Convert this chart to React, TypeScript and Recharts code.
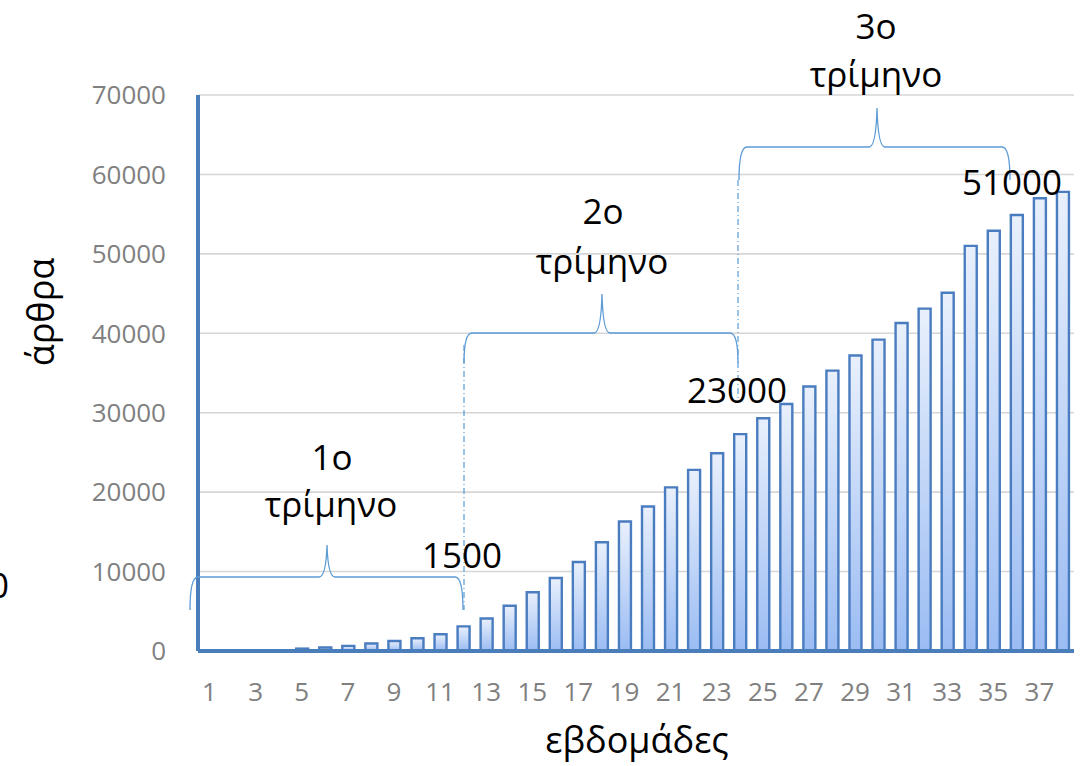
import React from "react";
import { BarChart, Bar, XAxis, YAxis, CartesianGrid } from "recharts";

const weeks = [
  "1", "2", "3", "4", "5", "6", "7", "8", "9", "10",
  "11", "12", "13", "14", "15", "16", "17", "18", "19", "20",
  "21", "22", "23", "24", "25", "26", "27", "28", "29", "30",
  "31", "32", "33", "34", "35", "36", "37", "38",
];

const articles = [
  0, 0, 0, 100, 300, 450, 650, 950, 1250, 1600,
  2100, 3100, 4100, 5700, 7400, 9200, 11200, 13700, 16300, 18200,
  20600, 22800, 24900, 27300, 29300, 31100, 33300, 35300, 37200, 39200,
  41300, 43100, 45100, 51000, 52900, 54900, 57000, 57800,
];

const yTicks = [0, 10000, 20000, 30000, 40000, 50000, 60000, 70000];

const annotations = [
  { label: "1o", sub: "τρίμηνο", value: "1500" },
  { label: "2o", sub: "τρίμηνο", value: "23000" },
  { label: "3o", sub: "τρίμηνο", value: "51000" },
];

const data = weeks.map((w, i) => ({ week: w, articles: articles[i] }));

const FONT = "'Open Sans', 'Noto Sans', 'DejaVu Sans', sans-serif";
const AXIS_BLUE = "#4a7ebb";
const BRACE = "#5b9bd5";

function bracePath(x1: number, x2: number, xm: number, y: number, d: number, h: number) {
  const r = 8;
  return `M ${x1} ${y + d} Q ${x1} ${y} ${x1 + r} ${y} L ${xm - r} ${y} Q ${xm - 1} ${y} ${xm} ${y - h} Q ${xm + 1} ${y} ${xm + r} ${y} L ${x2 - r} ${y} Q ${x2} ${y} ${x2} ${y + d}`;
}

const Overlay = () => (
  <svg
    width={1081}
    height={766}
    style={{ position: "absolute", left: 0, top: 0, pointerEvents: "none" }}
    fontFamily={FONT}
  >
    {/* braces */}
    <path d={bracePath(190, 463, 327, 577, 33, 32)} fill="none" stroke={BRACE} strokeWidth={1.3} />
    <path d={bracePath(464, 738, 602, 333, 30, 39)} fill="none" stroke={BRACE} strokeWidth={1.3} />
    <path d={bracePath(739, 1010, 877, 147, 33, 39)} fill="none" stroke={BRACE} strokeWidth={1.3} />
    {/* dash-dot guides */}
    <line x1={464} y1={345} x2={464} y2={610} stroke={BRACE} strokeWidth={1.2} strokeDasharray="6 3 1 3" />
    <line x1={738} y1={180} x2={738} y2={400} stroke={BRACE} strokeWidth={1.2} strokeDasharray="6 3 1 3" />

    {/* annotation texts */}
    <text x={332} y={470} fontSize={35} textAnchor="middle" fill="#000">{annotations[0].label}</text>
    <text x={331} y={517} fontSize={35} textAnchor="middle" fill="#000">{annotations[0].sub}</text>
    <text x={462} y={568} fontSize={35} textAnchor="middle" fill="#000">{annotations[0].value}</text>

    <text x={603} y={224} fontSize={35} textAnchor="middle" fill="#000">{annotations[1].label}</text>
    <text x={602} y={274} fontSize={35} textAnchor="middle" fill="#000">{annotations[1].sub}</text>
    <text x={737} y={403} fontSize={35} textAnchor="middle" fill="#000">{annotations[1].value}</text>

    <text x={876} y={39} fontSize={35} textAnchor="middle" fill="#000">{annotations[2].label}</text>
    <text x={876} y={87} fontSize={35} textAnchor="middle" fill="#000">{annotations[2].sub}</text>
    <text x={1012} y={195} fontSize={35} textAnchor="middle" fill="#000">{annotations[2].value}</text>

    {/* clipped fragment at left edge */}
    <text x={9} y={598} fontSize={35} textAnchor="end" fill="#000">0</text>

    {/* axis titles */}
    <text x={0} y={0} fontSize={36} textAnchor="middle" fill="#000" transform="translate(54 312) rotate(-90)">άρθρα</text>
    <text x={637} y={753} fontSize={36} textAnchor="middle" fill="#000">εβδομάδες</text>
  </svg>
);

export default function App() {
  return (
    <div style={{ position: "absolute", left: 0, top: 0, width: 1081, height: 766, background: "#fff" }}>
      <BarChart
        width={1081}
        height={766}
        data={data}
        margin={{ top: 95, right: 7, bottom: 0, left: 0 }}
        barSize={12}
      >
        <defs>
          <linearGradient id="barGrad" x1="0" y1="0" x2="0" y2="1">
            <stop offset="0%" stopColor="#e9f0fc" />
            <stop offset="100%" stopColor="#9bbcf3" />
          </linearGradient>
        </defs>
        <CartesianGrid vertical={false} stroke="#d6d6d6" strokeWidth={1.6} />
        <XAxis
          dataKey="week"
          interval={1}
          tickLine={false}
          tickSize={0}
          tickMargin={32}
          height={115}
          axisLine={{ stroke: AXIS_BLUE, strokeWidth: 4 }}
          tick={{ fill: "#808080", fontSize: 26, fontFamily: FONT }}
        />
        <YAxis
          domain={[0, 70000]}
          ticks={yTicks}
          width={198}
          tickLine={false}
          tickSize={0}
          tickMargin={32}
          axisLine={{ stroke: AXIS_BLUE, strokeWidth: 4 }}
          tick={{ fill: "#808080", fontSize: 26, fontFamily: FONT }}
        />
        <Bar
          dataKey="articles"
          fill="url(#barGrad)"
          stroke="#4a7cc0"
          strokeWidth={2.4}
          isAnimationActive={false}
        />
      </BarChart>
      <Overlay />
    </div>
  );
}
